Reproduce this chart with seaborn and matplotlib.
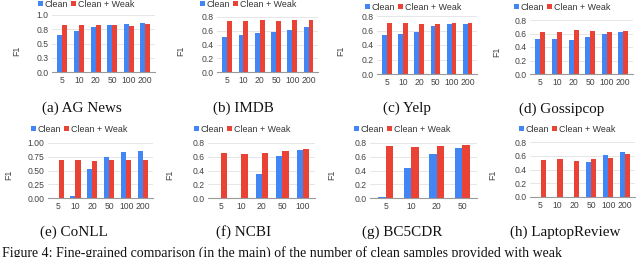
import matplotlib
matplotlib.use("Agg")
import matplotlib.pyplot as plt
import numpy as np
import pandas as pd
import seaborn as sns

# ---------------- data ----------------
sizes6 = ["5", "10", "20", "50", "100", "200"]
sizes5 = ["5", "10", "20", "50", "100"]
sizes4 = ["5", "10", "20", "50"]

agnews_clean = [0.655, 0.726, 0.79, 0.83, 0.845, 0.857]
agnews_weak = [0.82, 0.82, 0.82, 0.83, 0.815, 0.845]
imdb_clean = [0.51, 0.535, 0.56, 0.585, 0.617, 0.655]
imdb_weak = [0.74, 0.74, 0.75, 0.74, 0.75, 0.75]
yelp_clean = [0.54, 0.556, 0.584, 0.662, 0.69, 0.69]
yelp_weak = [0.70, 0.703, 0.685, 0.694, 0.70, 0.708]
gossip_clean = [0.518, 0.518, 0.509, 0.553, 0.593, 0.627]
gossip_weak = [0.627, 0.627, 0.647, 0.637, 0.617, 0.642]
conll_clean = [0.0, 0.03, 0.52, 0.74, 0.83, 0.86]
conll_weak = [0.685, 0.685, 0.68, 0.69, 0.70, 0.70]
ncbi_clean = [0.0, 0.0, 0.347, 0.617, 0.694]
ncbi_weak = [0.655, 0.636, 0.65, 0.68, 0.713]
bc5_clean = [0.02, 0.436, 0.64, 0.727]
bc5_weak = [0.75, 0.737, 0.756, 0.766]
laptop_clean = [0.0, 0.0, 0.0, 0.51, 0.61, 0.66]
laptop_weak = [0.545, 0.554, 0.53, 0.555, 0.57, 0.63]

series_names = ["Clean", "Clean + Weak"]
colors = ["#4285F4", "#EA4335"]

ticks_a = [0.0, 0.25, 0.5, 0.75, 1.0]
ticklabels_a = ["0.0", "0.3", "0.5", "0.8", "1.0"]
ticks_e = [0.0, 0.25, 0.5, 0.75, 1.0]
ticklabels_e = ["0.00", "0.25", "0.50", "0.75", "1.00"]
ticks_std = [0.0, 0.2, 0.4, 0.6, 0.8]
ticklabels_std = ["0.0", "0.2", "0.4", "0.6", "0.8"]

panels = [
    # name, cats, clean, weak, ticks, labels, axes px box (x0,y0,x1,y1), legend center, F1 pos, caption pos
    ("(a) AG News", sizes6, agnews_clean, agnews_weak, ticks_a, ticklabels_a, (52, 15, 155, 72), (86, 4.5), (17, 51), (82, 108.5)),
    ("(b) IMDB", sizes6, imdb_clean, imdb_weak, ticks_std, ticklabels_std, (217, 17, 318, 72), (248, 4.5), (181, 51), (243, 108.5)),
    ("(c) Yelp", sizes6, yelp_clean, yelp_weak, ticks_std, ticklabels_std, (377, 16, 477, 74), (413, 7.5), (341, 51), (407, 108.5)),
    ("(d) Gossipcop", sizes6, gossip_clean, gossip_weak, ticks_std, ticklabels_std, (530, 20, 633, 74), (562, 7.5), (497, 52), (562, 109.5)),
    ("(e) CoNLL", sizes6, conll_clean, conll_weak, ticks_e, ticklabels_e, (48, 143, 153, 198), (79, 129), (9, 175), (74, 232)),
    ("(f) NCBI", sizes5, ncbi_clean, ncbi_weak, ticks_std, ticklabels_std, (208, 143, 315, 198), (242, 129), (170, 175), (244, 232)),
    ("(g) BC5CDR", sizes4, bc5_clean, bc5_weak, ticks_std, ticklabels_std, (370, 143, 477, 198), (402, 129), (332, 175), (402, 232)),
    ("(h) LaptopReview", sizes6, laptop_clean, laptop_weak, ticks_std, ticklabels_std, (530, 142, 635, 197), (567, 129), (493, 175), (565, 232)),
]

W, H = 640, 257
fig = plt.figure(figsize=(W / 100, H / 100), dpi=100)
fig.patch.set_facecolor("white")

sans = ["Liberation Sans", "DejaVu Sans"]
serif = ["Liberation Serif", "DejaVu Serif"]
tick_color = "#444444"

for name, cats, clean, weak, ticks, tlabels, box, leg, f1pos, cap in panels:
    x0, y0, x1, y1 = box
    ax = fig.add_axes([x0 / W, (H - y1) / H, (x1 - x0) / W, (y1 - y0) / H])
    df = pd.DataFrame({
        "size": list(cats) * 2,
        "F1": list(clean) + list(weak),
        "series": [series_names[0]] * len(cats) + [series_names[1]] * len(cats),
    })
    sns.barplot(data=df, x="size", y="F1", hue="series", order=cats,
                hue_order=series_names, palette=colors, saturation=1,
                width=0.6, ax=ax, legend=True, linewidth=0)
    n = len(cats)
    ax.set_xlim(-0.62, n - 0.42)
    ax.set_ylim(0, ticks[-1])
    ax.set_yticks(ticks)
    ax.set_yticklabels(tlabels)
    ax.set_xlabel("")
    ax.set_ylabel("")
    for s in ["top", "right", "left"]:
        ax.spines[s].set_visible(False)
    ax.spines["bottom"].set_color("#9a9a9a")
    ax.spines["bottom"].set_linewidth(0.8)
    ax.grid(axis="y", color="#e2e2e2", linewidth=0.6)
    ax.set_axisbelow(True)
    ax.tick_params(axis="both", length=0, labelsize=6.2, colors=tick_color)
    ax.tick_params(axis="y", pad=2.5)
    ax.tick_params(axis="x", pad=3.2)
    for lab in ax.get_xticklabels() + ax.get_yticklabels():
        lab.set_family(sans)
    handles, labels = ax.get_legend_handles_labels()
    ax.legend(handles, labels, loc="center", bbox_to_anchor=(leg[0] / W, 1 - leg[1] / H),
              bbox_transform=fig.transFigure, ncol=2, frameon=False,
              handlelength=0.5, handleheight=0.5, handletextpad=0.2,
              columnspacing=0.4, borderpad=0,
              prop={"family": sans, "size": 6.4})
    for t in ax.get_legend().get_texts():
        t.set_color("#333333")
    fig.text(f1pos[0] / W, 1 - f1pos[1] / H, "F1", rotation=90, ha="center", va="center",
             fontsize=6.4, color=tick_color, family=sans)
    fig.text(cap[0] / W, 1 - cap[1] / H, name, ha="center", va="center",
             fontsize=10.9, color="#111111", family=serif)

fig.text(2 / W, 1 - 246 / H,
         "Figure 4: Fine-grained comparison (in the main) of the number of clean samples provided with weak",
         ha="left", va="top", fontsize=10, color="#111111", family=serif)

fig.savefig("out.png", dpi=100, facecolor="white")
